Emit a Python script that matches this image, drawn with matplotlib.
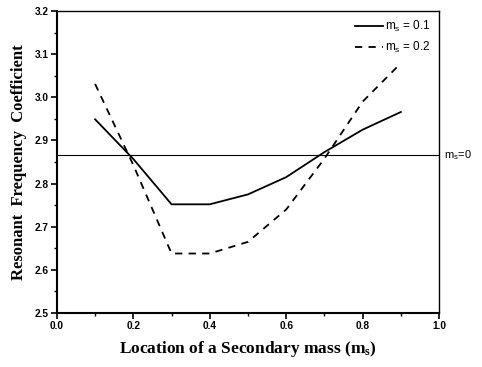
import numpy as np
import matplotlib
matplotlib.use("Agg")
import matplotlib.pyplot as plt
from matplotlib.ticker import MultipleLocator

loc = [0.1, 0.2, 0.3, 0.4, 0.5, 0.6, 0.7, 0.8, 0.9]
coef_01 = [2.949, 2.857, 2.752, 2.752, 2.775, 2.815, 2.873, 2.925, 2.966]
coef_02 = [3.031, 2.843, 2.638, 2.638, 2.665, 2.740, 2.858, 2.990, 3.079]
coef_00 = 2.867

plt.rcParams["font.family"] = ["Liberation Sans", "DejaVu Sans"]
plt.rcParams["mathtext.fontset"] = "custom"
plt.rcParams["mathtext.rm"] = "Liberation Sans"
plt.rcParams["mathtext.it"] = "Liberation Sans"
plt.rcParams["mathtext.bf"] = "Liberation Serif:bold"

fig = plt.figure(figsize=(4.82, 3.67), dpi=100)
ax = fig.add_axes([0.118, 0.147, 0.793, 0.823])

ax.plot(loc, coef_01, color="black", lw=1.3, ls="-", label=r"m$_{\rm s}$ = 0.1")
ax.plot(loc, coef_02, color="black", lw=1.3, ls=(0, (4, 3.5)), label=r"m$_{\rm s}$ = 0.2")
ax.axhline(coef_00, color="black", lw=0.8)
ax.text(1.012, coef_00, r"m$_{\rm s}$=0", transform=ax.get_yaxis_transform(),
        ha="left", va="center", fontsize=8, clip_on=False)

ax.set_xlim(0.0, 1.0)
ax.set_ylim(2.5, 3.2)
ax.xaxis.set_major_locator(MultipleLocator(0.2))
ax.xaxis.set_minor_locator(MultipleLocator(0.1))
ax.yaxis.set_major_locator(MultipleLocator(0.1))
ax.yaxis.set_minor_locator(MultipleLocator(0.05))
ax.tick_params(which="major", direction="out", length=4, width=1.2, labelsize=7.3, pad=2)
ax.tick_params(which="minor", direction="out", length=2, width=1.0)
for lab in ax.get_xticklabels() + ax.get_yticklabels():
    lab.set_fontweight("bold")
for sp in ["left", "bottom"]:
    ax.spines[sp].set_linewidth(1.5)
for sp in ["top", "right"]:
    ax.spines[sp].set_linewidth(1.0)

ax.set_xlabel(r"Location of a Secondary mass (m$_{\mathbf{s}}$)", family="Liberation Serif",
              fontweight="bold", fontsize=12.5, va="center")
ax.set_ylabel("Resonant  Frequency  Coefficient", family="Liberation Serif",
              fontweight="bold", fontsize=12, va="center")
ax.xaxis.set_label_coords(0.5, -0.119)
ax.yaxis.set_label_coords(-0.1, 0.5)

ax.legend(loc="upper right", frameon=False, fontsize=8.5, handlelength=2.4,
          handletextpad=0.2, labelspacing=0.45, borderaxespad=0.3)

fig.savefig("out.png", dpi=100)
